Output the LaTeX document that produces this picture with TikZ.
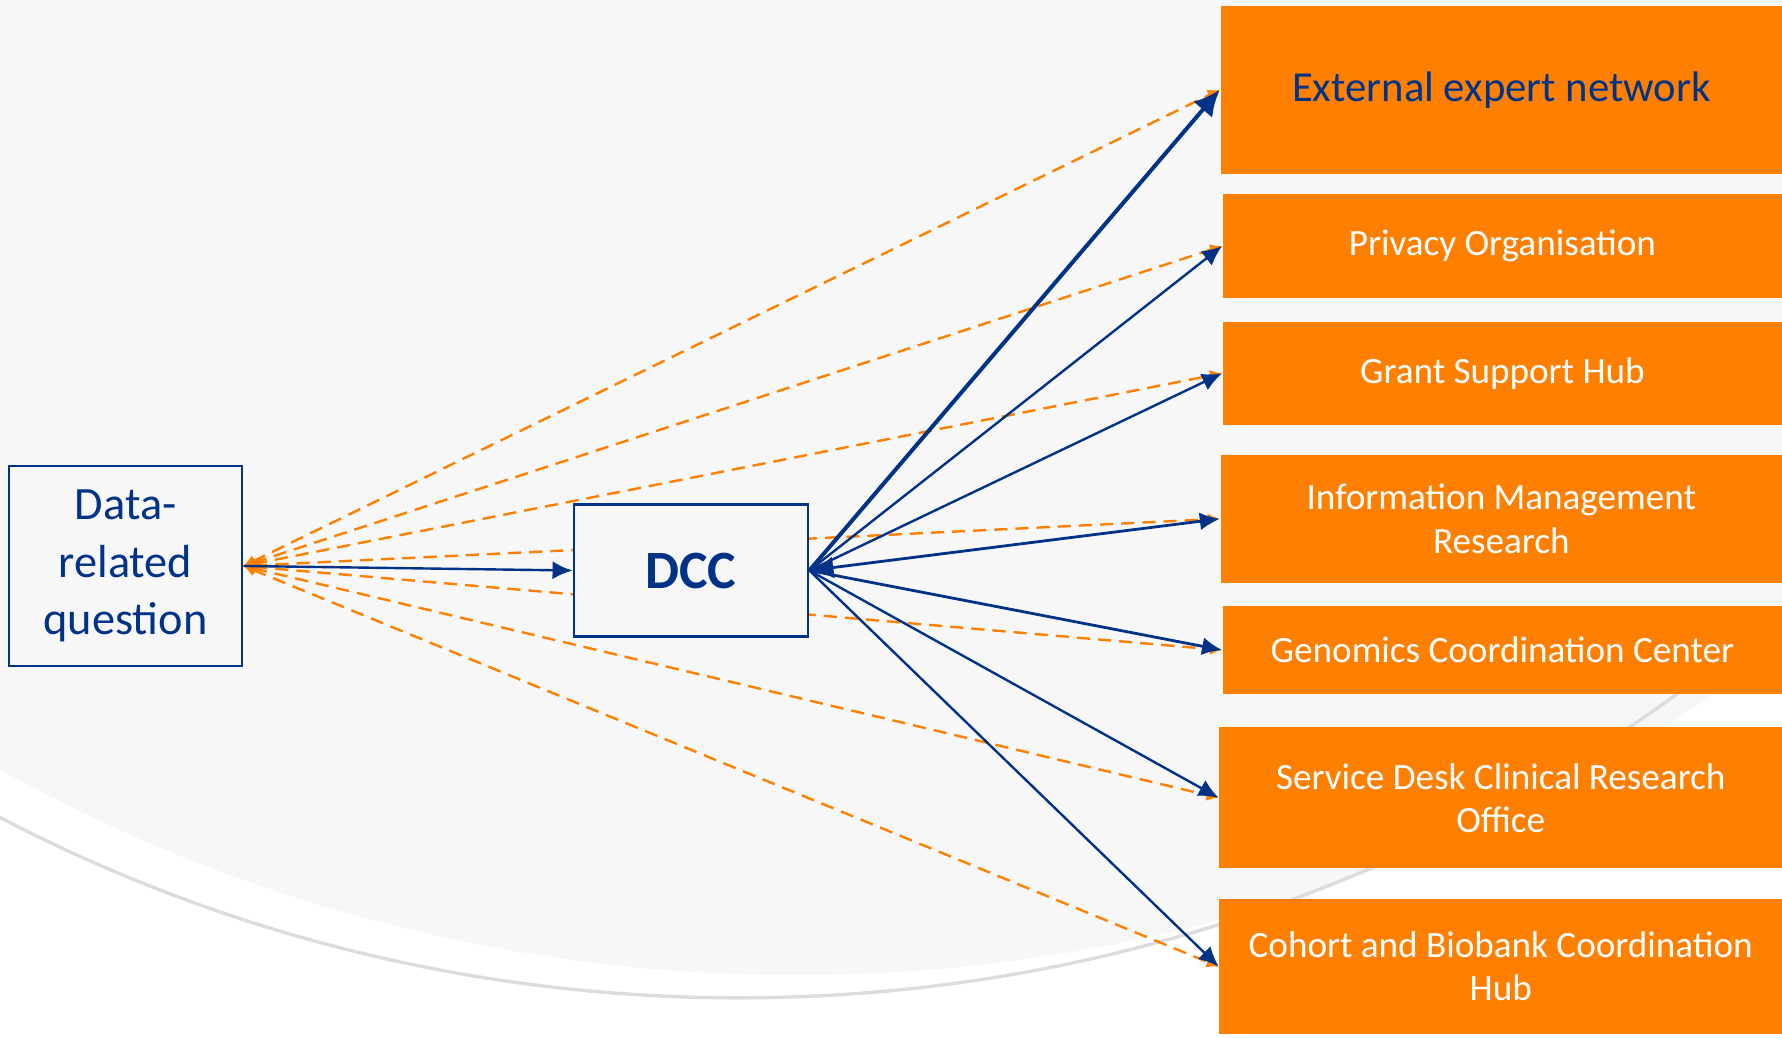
\documentclass[tikz,border=0pt]{standalone}
\usepackage{fontspec}
\setmainfont{Carlito}
\usetikzlibrary{arrows.meta}
\definecolor{dccblue}{RGB}{0,51,136}
\definecolor{hubOrange}{RGB}{255,127,0}
\definecolor{bggray}{RGB}{247,247,247}
\definecolor{arcgray}{RGB}{220,220,220}
\tikzset{
  qbox/.style={draw=dccblue, line width=0.7pt, fill=bggray, text=dccblue, align=center, inner sep=0pt},
  hub/.style={fill=hubOrange, text=white, align=center, inner sep=0pt,
    font=\fontsize{9.3}{10.8}\selectfont},
  route/.style={draw=dccblue, line width=0.6pt, -{Latex[length=5pt,width=4.5pt]}},
  askline/.style={draw=hubOrange, line width=0.6pt, dash pattern=on 3.3pt off 2pt,
    {Latex[length=3pt,width=3pt]}-{Latex[length=3pt,width=3pt]}}
}
\begin{document}
\begin{tikzpicture}
\useasboundingbox (0,0) rectangle (15.68,-9.13);
\begin{scope}
\clip (0,0) rectangle (15.68,-9.13);
\fill[bggray] (7,5.86) circle (14.44);
\draw[arcgray, line width=0.85pt] (6.5,5.30) circle (14.08);
\end{scope}

\node[qbox, minimum width=2.05cm, minimum height=1.76cm, font=\fontsize{11.6}{14.3}\selectfont] (question) at (1.105,-4.98) {Data-\\related\\question};

\node[hub, minimum width=4.94cm, minimum height=1.48cm, text=dccblue, font=\fontsize{10.7}{13}\selectfont] (expert) at (13.21,-0.79) {External expert network};
\node[hub, minimum width=4.92cm, minimum height=0.91cm] (privacy) at (13.22,-2.165) {Privacy Organisation};
\node[hub, minimum width=4.92cm, minimum height=0.91cm] (grant) at (13.22,-3.285) {Grant Support Hub};
\node[hub, minimum width=4.94cm, minimum height=1.13cm] (infomgmt) at (13.21,-4.565) {Information Management\\Research};
\node[hub, minimum width=4.92cm, minimum height=0.78cm] (genomics) at (13.22,-5.72) {Genomics Coordination Center};
\node[hub, minimum width=4.95cm, minimum height=1.24cm] (servicedesk) at (13.205,-7.02) {Service Desk Clinical Research\\Office};
\node[hub, minimum width=4.95cm, minimum height=1.19cm] (cohort) at (13.205,-8.505) {Cohort and Biobank Coordination\\Hub};

\foreach \hubname in {expert,privacy,grant,infomgmt,genomics,servicedesk,cohort}
  \draw[askline] (question.east) -- (\hubname.west);

\node[qbox, minimum width=2.06cm, minimum height=1.16cm, font=\fontsize{13.5}{16}\selectfont\bfseries] (dcc) at (6.08,-5.02) {DCC};

\draw[route] (question.east) -- (dcc.west);
\draw[route, line width=1pt, -{Latex[length=6.5pt,width=6.2pt]}] (dcc.east) -- (expert.west);
\draw[route] (dcc.east) -- (privacy.west);
\draw[route] (dcc.east) -- (grant.west);
\draw[route, line width=0.7pt, {Latex[length=6pt,width=5.5pt]}-{Latex[length=5pt,width=4.5pt]}] (dcc.east) -- (infomgmt.west);
\draw[route, line width=0.7pt] (dcc.east) -- (genomics.west);
\draw[route] (dcc.east) -- (servicedesk.west);
\draw[route] (dcc.east) -- (cohort.west);
\end{tikzpicture}
\end{document}
